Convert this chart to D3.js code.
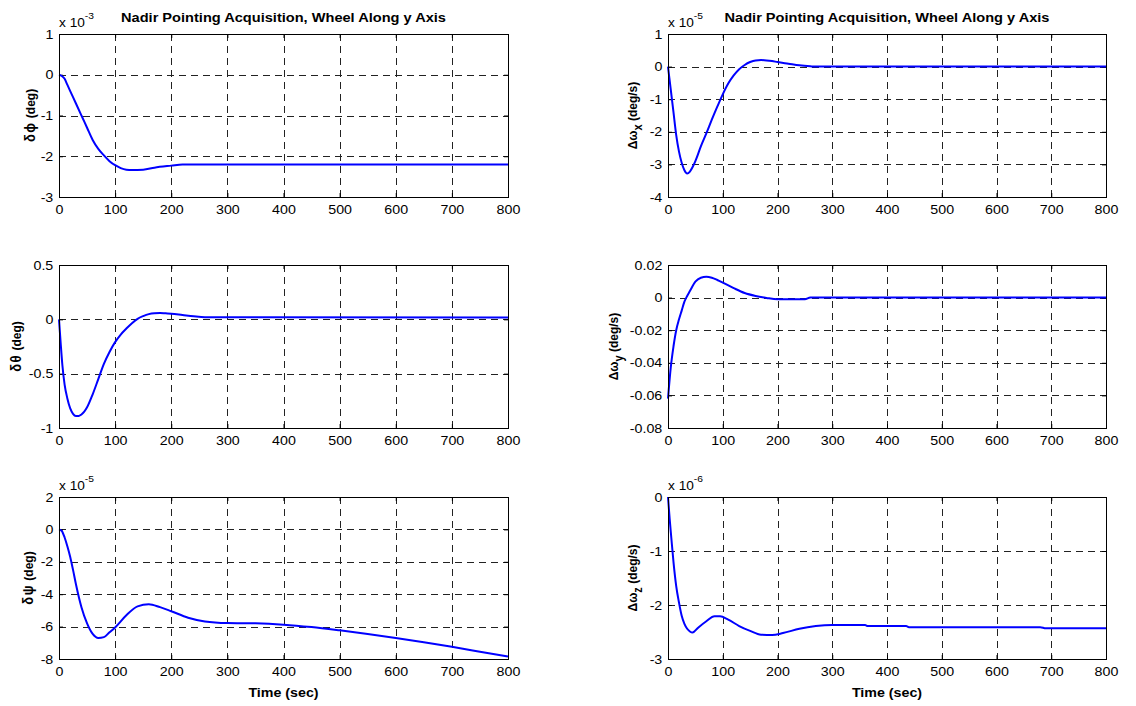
<!DOCTYPE html>
<html>
<head>
<meta charset="utf-8">
<script src="https://cdn.jsdelivr.net/npm/d3@7"></script>
<style>
  body { margin: 0; background: #fff; }
  text { font-family: "Liberation Sans", Arial, sans-serif; }
</style>
</head>
<body>
<div id="chart"></div>
<script>
(() => {
    const width = 1136;
    const height = 706;
    const sx = 1.14; // the original picture is stretched a little horizontally

    // time axis shared by all panels
    const timeTicks = [0, 100, 200, 300, 400, 500, 600, 700, 800];

    // delta phi (x 1e-3 deg)
    const phiT = [0, 5, 10, 15, 20, 25, 30, 40, 50, 60, 70, 80, 90, 100, 110, 120, 130, 150, 170, 200, 220, 250, 800];
    const phiV = [0, -0.03, -0.1, -0.25, -0.4, -0.55, -0.7, -1.0, -1.3, -1.6, -1.82, -1.98, -2.12, -2.22, -2.29, -2.33, -2.34, -2.33, -2.28, -2.23, -2.2, -2.2, -2.2];

    // delta omega x (x 1e-5 deg/s)
    const omxT = [0, 5, 10, 15, 20, 25, 30, 35, 40, 45, 50, 60, 70, 80, 90, 100, 110, 120, 130, 140, 150, 160, 170, 180, 190, 200, 220, 240, 260, 270, 800];
    const omxV = [0, -0.7, -1.4, -2.1, -2.6, -2.95, -3.18, -3.28, -3.22, -3.08, -2.9, -2.45, -2.05, -1.63, -1.23, -0.85, -0.52, -0.27, -0.08, 0.05, 0.14, 0.19, 0.2, 0.19, 0.17, 0.14, 0.09, 0.04, 0.01, 0, 0];

    // delta theta (deg)
    const thetaT = [0, 3, 6, 10, 15, 20, 25, 30, 35, 40, 45, 50, 60, 70, 80, 90, 100, 110, 120, 130, 140, 150, 160, 170, 180, 190, 200, 220, 240, 260, 800];
    const thetaV = [0, -0.22, -0.42, -0.6, -0.73, -0.82, -0.87, -0.89, -0.89, -0.875, -0.85, -0.81, -0.69, -0.55, -0.41, -0.3, -0.21, -0.14, -0.085, -0.035, 0.005, 0.03, 0.048, 0.056, 0.058, 0.055, 0.052, 0.04, 0.028, 0.02, 0.018];

    // delta omega y (deg/s)
    const omyT = [0, 5, 10, 15, 20, 25, 30, 35, 40, 50, 60, 70, 80, 90, 100, 120, 140, 160, 180, 200, 250, 260, 800];
    const omyV = [-0.062, -0.043, -0.03, -0.02, -0.0135, -0.008, -0.0025, 0.001, 0.004, 0.0098, 0.0122, 0.0128, 0.0122, 0.0108, 0.0092, 0.0058, 0.0028, 0.001, -0.0002, -0.001, -0.001, 0, 0];

    // delta psi (x 1e-5 deg)
    const psiT = [0, 5, 10, 15, 20, 25, 30, 40, 50, 60, 70, 80, 90, 100, 120, 140, 160, 180, 200, 230, 260, 300, 350, 400, 450, 500, 550, 600, 650, 700, 750, 800];
    const psiV = [0, -0.1, -0.5, -1.05, -1.7, -2.5, -3.35, -4.8, -5.8, -6.45, -6.7, -6.65, -6.35, -6.05, -5.3, -4.75, -4.62, -4.8, -5.05, -5.45, -5.68, -5.78, -5.8, -5.88, -6.03, -6.23, -6.45, -6.7, -6.97, -7.25, -7.55, -7.85];

    // delta omega z (x 1e-6 deg/s)
    const omzT = [0, 3, 6, 10, 15, 20, 25, 30, 35, 40, 45, 55, 70, 85, 95, 110, 130, 150, 170, 190, 210, 240, 270, 300, 360, 365, 435, 440, 680, 690, 800];
    const omzV = [0, -0.4, -0.75, -1.2, -1.65, -1.95, -2.2, -2.35, -2.44, -2.49, -2.51, -2.42, -2.3, -2.21, -2.21, -2.27, -2.39, -2.48, -2.55, -2.555, -2.52, -2.44, -2.39, -2.37, -2.37, -2.39, -2.39, -2.41, -2.41, -2.43, -2.43];

    // y ticks / labels per panel
    const phiTicks = [1, 0, -1, -2, -3];
    const omxTicks = [1, 0, -1, -2, -3, -4];
    const thetaTicks = [0.5, 0, -0.5, -1];
    const omyTicks = [0.02, 0, -0.02, -0.04, -0.06, -0.08];
    const psiTicks = [2, 0, -2, -4, -6, -8];
    const omzTicks = [0, -1, -2, -3];

    const titleText = "Nadir Pointing Acquisition, Wheel Along y Axis";

    const cols = [{ x0: 59, x1: 508 }, { x0: 668, x1: 1106 }];
    const rows = [{ y0: 34, y1: 197 }, { y0: 265, y1: 428 }, { y0: 497, y1: 659 }];

    // label: [greek symbol, subscript, rest]
    const panels = [
        { r: 0, c: 0, t: phiT, v: phiV, ticks: phiTicks, exp: "-3", label: ["δϕ", null, " (deg)"], greekWide: true, lx: 24, title: true },
        { r: 0, c: 1, t: omxT, v: omxV, ticks: omxTicks, exp: "-5", label: ["Δω", "x", " (deg/s)"], lx: 31, title: true },
        { r: 1, c: 0, t: thetaT, v: thetaV, ticks: thetaTicks, exp: null, label: ["δθ", null, "  (deg)"], greekWide: true, lx: 38 },
        { r: 1, c: 1, t: omyT, v: omyV, ticks: omyTicks, exp: null, label: ["Δω", "y", " (deg/s)"], lx: 50 },
        { r: 2, c: 0, t: psiT, v: psiV, ticks: psiTicks, exp: "-5", label: ["δψ", null, "  (deg)"], greekWide: true, lx: 26, xlabel: true },
        { r: 2, c: 1, t: omzT, v: omzV, ticks: omzTicks, exp: "-6", label: ["Δω", "z", " (deg/s)"], lx: 31, xlabel: true }
    ];

    const svg = d3.select("#chart")
        .append("svg")
        .attr("width", width)
        .attr("height", height);

    panels.forEach(p => {
        const col = cols[p.c];
        const row = rows[p.r];
        const w = col.x1 - col.x0;
        const h = row.y1 - row.y0;

        const x = d3.scaleLinear().domain([0, 800]).range([0, w]);
        const y = d3.scaleLinear().domain(d3.extent(p.ticks)).range([h, 0]);

        const g = svg.append("g").attr("transform", `translate(${col.x0}, ${row.y0})`);

        // dashed grid
        g.append("g")
            .selectAll("line")
            .data(timeTicks.slice(1, -1))
            .join("line")
            .attr("x1", d => Math.round(x(d)) + 0.5).attr("x2", d => Math.round(x(d)) + 0.5)
            .attr("y1", 0).attr("y2", h)
            .attr("stroke", "#222")
            .attr("stroke-dasharray", "7,5");

        g.append("g")
            .selectAll("line")
            .data(p.ticks.filter(d => d !== y.domain()[0] && d !== y.domain()[1]))
            .join("line")
            .attr("x1", 0).attr("x2", w)
            .attr("y1", d => Math.round(y(d)) + 0.5).attr("y2", d => Math.round(y(d)) + 0.5)
            .attr("stroke", "#222")
            .attr("stroke-dasharray", "7,5");

        // inner ticks on all four sides
        const tickLen = 4;
        g.append("g").call(d3.axisBottom(x).tickValues(timeTicks).tickSize(tickLen).tickFormat(""))
            .call(a => a.select(".domain").remove());
        g.append("g").attr("transform", `translate(0, ${h})`)
            .call(d3.axisTop(x).tickValues(timeTicks).tickSize(tickLen).tickFormat(""))
            .call(a => a.select(".domain").remove());
        g.append("g").call(d3.axisRight(y).tickValues(p.ticks).tickSize(tickLen).tickFormat(""))
            .call(a => a.select(".domain").remove());
        g.append("g").attr("transform", `translate(${w}, 0)`)
            .call(d3.axisLeft(y).tickValues(p.ticks).tickSize(tickLen).tickFormat(""))
            .call(a => a.select(".domain").remove());

        // tick labels
        g.append("g").attr("transform", `translate(0, ${h})`)
            .call(d3.axisBottom(x).tickValues(timeTicks).tickSize(0).tickPadding(8).tickFormat(d => String(d)))
            .call(a => a.select(".domain").remove())
            .selectAll("text")
            .attr("transform", `scale(${sx},1)`)
            .style("font-size", "12.5px")
            .style("fill", "#000");

        g.append("g")
            .call(d3.axisLeft(y).tickValues(p.ticks).tickSize(0).tickPadding(5).tickFormat(d => String(d)))
            .call(a => a.select(".domain").remove())
            .selectAll("text")
            .attr("transform", `scale(${sx},1)`)
            .style("font-size", "12.5px")
            .style("fill", "#000");

        // data line
        const pts = p.t.map((t, i) => [t, p.v[i]]);
        g.append("path")
            .datum(pts)
            .attr("fill", "none")
            .attr("stroke", "#0000ff")
            .attr("stroke-width", 2)
            .attr("stroke-linejoin", "round")
            .attr("d", d3.line()
                .x(d => x(d[0]))
                .y(d => y(d[1]))
                .curve(d3.curveMonotoneX));

        // axes box
        g.append("rect")
            .attr("x", 0.5).attr("y", 0.5)
            .attr("width", w).attr("height", h)
            .attr("fill", "none")
            .attr("stroke", "#000");

        // exponent
        if (p.exp) {
            const ex = g.append("text")
                .attr("transform", `translate(0, -7) scale(${sx},1)`)
                .style("font-size", "12px")
                .text("x 10");
            ex.append("tspan")
                .attr("dy", -8)
                .style("font-size", "9px")
                .text(p.exp);
        }

        // y label
        const yl = g.append("text")
            .attr("transform", `translate(${-p.lx}, ${h / 2}) scale(${sx},1) rotate(-90)`)
            .attr("text-anchor", "middle")
            .style("font-size", "12px")
            .style("font-weight", "bold");
        yl.append("tspan")
            .style("font-size", p.greekWide ? "13px" : "12px")
            .style("letter-spacing", p.greekWide ? "1.5px" : "0px")
            .text(p.label[0]);
        if (p.label[1]) {
            yl.append("tspan").attr("dy", 4).style("font-size", "11px").text(p.label[1]);
            yl.append("tspan").attr("dy", -4).text(p.label[2]);
        } else {
            yl.append("tspan").text(p.label[2]);
        }

        if (p.title) {
            g.append("text")
                .attr("transform", `translate(${w / 2}, -12) scale(${sx},1)`)
                .attr("text-anchor", "middle")
                .style("font-size", "12.8px")
                .style("font-weight", "bold")
                .text(titleText);
        }

        if (p.xlabel) {
            g.append("text")
                .attr("transform", `translate(${w / 2}, ${h + 38}) scale(${sx},1)`)
                .attr("text-anchor", "middle")
                .style("font-size", "12.5px")
                .style("font-weight", "bold")
                .text("Time (sec)");
        }
    });
})();
</script>
</body>
</html>
